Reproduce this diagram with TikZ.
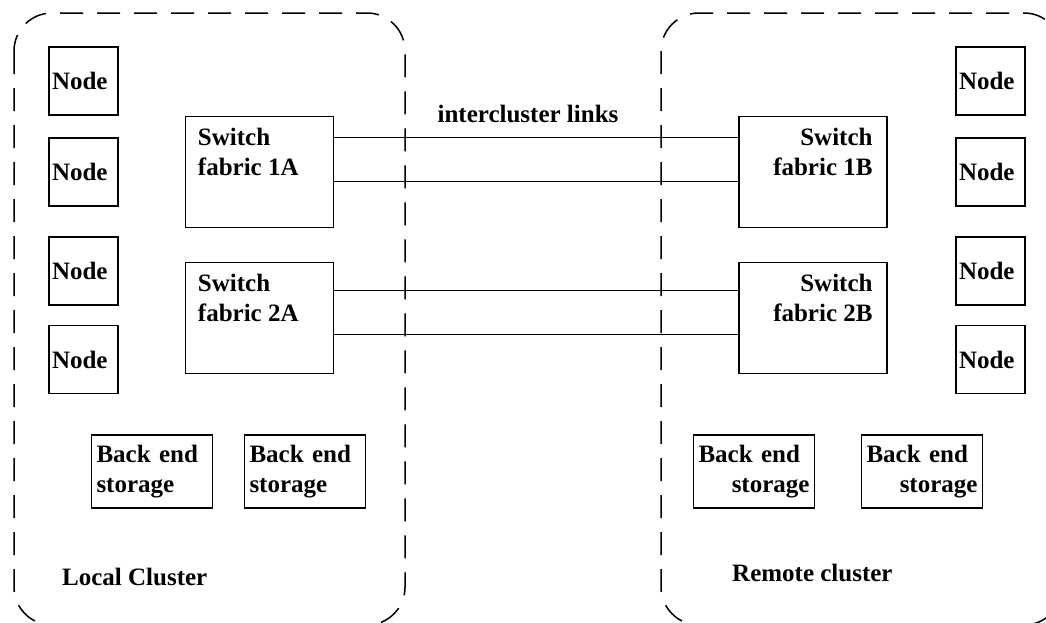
\documentclass[tikz,border=0pt]{standalone}
\usepackage{fontspec}
\setmainfont{Liberation Serif}
\tikzset{
  hostbox/.style = {draw, line width=1.5pt, minimum width=69pt, minimum height=68pt, inner xsep=3pt, text width=63pt, align=left},
  switchbox/.style = {draw, line width=1.5pt, minimum width=148pt, minimum height=111pt},
  storebox/.style = {draw, line width=1.5pt, minimum width=121pt, minimum height=73pt, inner xsep=5pt, text width=111pt, align=left},
  swtext/.style = {inner sep=0pt},
  tag/.style = {inner sep=0pt},
  clusterframe/.style = {draw, line width=1.5pt, dash pattern=on 23pt off 14pt, rounded corners=38pt},
  link/.style = {line width=1.3pt}
}

\begin{document}
\begin{tikzpicture}[x=1pt, y=-1pt, font=\fontsize{25}{30}\selectfont\bfseries]

    \useasboundingbox (0,0) rectangle (1046,622);

    % The two clusters
    \draw [clusterframe] (14,13) rectangle (405,625);
    \draw [clusterframe] (661,13) rectangle (1062,625);

    % Place the nodes
    \node [hostbox] (ln1) at (83.5,81) {Node};
    \node [hostbox] (ln2) at (83.5,172) {Node};
    \node [hostbox] (ln3) at (83.5,271) {Node};
    \node [hostbox] (ln4) at (83.5,359.5) {Node};
    \node [hostbox] (rn1) at (990.5,81) {Node};
    \node [hostbox] (rn2) at (990.5,172) {Node};
    \node [hostbox] (rn3) at (990.5,271) {Node};
    \node [hostbox] (rn4) at (990.5,359.5) {Node};

    % Switch fabrics
    \node [switchbox] (sw1a) at (259.5,172) {};
    \node [switchbox] (sw2a) at (259.5,318) {};
    \node [switchbox] (sw1b) at (813,172) {};
    \node [switchbox] (sw2b) at (813,318) {};
    \node [swtext, anchor=north west, align=left] (sw1a-t) at ([xshift=13pt, yshift=-12pt]sw1a.north west) {Switch\\fabric 1A};
    \node [swtext, anchor=north west, align=left] (sw2a-t) at ([xshift=13pt, yshift=-12pt]sw2a.north west) {Switch\\fabric 2A};
    \node [swtext, anchor=north east, align=right] (sw1b-t) at ([xshift=-15pt, yshift=-12pt]sw1b.north east) {Switch\\fabric 1B};
    \node [swtext, anchor=north east, align=right] (sw2b-t) at ([xshift=-15pt, yshift=-12pt]sw2b.north east) {Switch\\fabric 2B};

    % Back end storage
    \node [storebox] (ls1) at (152,471.5) {Back end\\storage};
    \node [storebox] (ls2) at (305,471.5) {Back end\\storage};
    \node [storebox] (rs1) at (754,471.5) {Back end\\\hspace*{\fill}storage};
    \node [storebox] (rs2) at (922,471.5) {Back end\\\hspace*{\fill}storage};

    % Intercluster links
    \draw [link] ([yshift=-21.5pt]sw1a.north east) -- ([yshift=-21.5pt]sw1b.north west);
    \draw [link] ([yshift=-65.5pt]sw1a.north east) -- ([yshift=-65.5pt]sw1b.north west);
    \draw [link] ([yshift=-28.5pt]sw2a.north east) -- ([yshift=-28.5pt]sw2b.north west);
    \draw [link] ([yshift=-72.5pt]sw2a.north east) -- ([yshift=-72.5pt]sw2b.north west);

    % Labels
    \node [tag, anchor=base] (linkname) at (528,122) {intercluster links};
    \node [tag, anchor=base west] (localname) at (62,585) {Local Cluster};
    \node [tag, anchor=base west] (remotename) at (732,581) {Remote cluster};

\end{tikzpicture}
\end{document}
